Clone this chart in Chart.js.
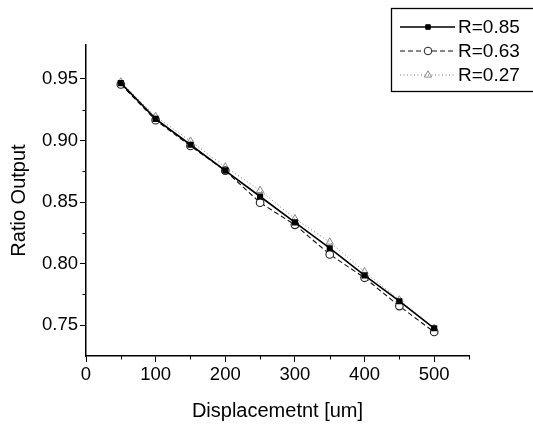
<!DOCTYPE html>
<html><head><meta charset="utf-8">
<script src="https://cdn.jsdelivr.net/npm/chart.js@4/dist/chart.umd.min.js"></script>
<style>html,body{margin:0;padding:0;background:#fff}#w{width:533px;height:427px;position:relative}</style>
</head><body><div id="w"><canvas id="c" width="533" height="427"></canvas></div>
<script>
const displacement = [50,100,150,200,250,300,350,400,450,500];
const r085 = [0.9465,0.9175,0.8965,0.8755,0.8545,0.8335,0.8125,0.7905,0.7695,0.7475];
const r063 = [0.9455,0.9165,0.8955,0.8755,0.8495,0.8315,0.8075,0.7885,0.7655,0.7445];
const r027 = [0.9475,0.9195,0.8995,0.8785,0.8595,0.8365,0.8175,0.7935,0.7705,0.7475];
const seriesLabels = ['R=0.85','R=0.63','R=0.27'];
const yMajor = [0.75,0.80,0.85,0.90,0.95];
const yMinor = [0.775,0.825,0.875,0.925];
const xMajor = [0,100,200,300,400,500];
const xMinor = [50,150,250,350,450,550];

const toPts = arr => displacement.map((x,i)=>({x, y: arr[i]}));
const FONT = "'Liberation Sans', Arial, sans-serif";

const styles = [
  {borderColor:'#000', borderWidth:1.6, borderDash:[], pointStyle:'rect', pointRadius:3.2, pointBackgroundColor:'#000', pointBorderColor:'#000'},
  {borderColor:'#111', borderWidth:1.1, borderDash:[5,3], pointStyle:'circle', pointRadius:3.8, pointBackgroundColor:'#fff', pointBorderColor:'#222'},
  {borderColor:'#777', borderWidth:1, borderDash:[1,2.5], pointStyle:'triangle', pointRadius:4.2, pointBackgroundColor:'rgba(255,255,255,0)', pointBorderColor:'#888'}
];
const datas = [r085, r063, r027];

const minorTicks = {
  id:'minorTicks',
  afterDraw(chart){
    const ctx = chart.ctx, xs = chart.scales.x, ys = chart.scales.y;
    ctx.save(); ctx.strokeStyle='#000'; ctx.lineWidth=1;
    yMinor.forEach(v=>{const p=Math.round(ys.getPixelForValue(v))+0.5; ctx.beginPath(); ctx.moveTo(xs.left-3.5,p); ctx.lineTo(xs.left,p); ctx.stroke();});
    xMinor.forEach(v=>{const p=Math.round(xs.getPixelForValue(v))+0.5; ctx.beginPath(); ctx.moveTo(p,ys.bottom); ctx.lineTo(p,ys.bottom+3.5); ctx.stroke();});
    // legend
    const lx=391, ly=8, lw=150, lh=83;
    ctx.fillStyle='#fff'; ctx.fillRect(lx,ly,lw,lh);
    ctx.strokeStyle='#000'; ctx.lineWidth=1.3; ctx.strokeRect(lx+0.5,ly+0.5,lw,lh);
    ctx.font = '19px '+FONT; ctx.textBaseline='middle'; ctx.textAlign='left';
    chart.data.datasets.forEach((ds,i)=>{
      const yy = ly+19+i*24;
      ctx.save();
      ctx.strokeStyle=ds.borderColor; ctx.lineWidth=ds.borderWidth; ctx.setLineDash(ds.borderDash);
      ctx.beginPath(); ctx.moveTo(lx+9,yy); ctx.lineTo(lx+64,yy); ctx.stroke();
      ctx.restore();
      ctx.save();
      ctx.fillStyle=ds.pointBackgroundColor; ctx.strokeStyle=ds.pointBorderColor; ctx.lineWidth=1;
      Chart.helpers.drawPoint(ctx,{pointStyle:ds.pointStyle, radius:ds.pointRadius, borderWidth:1, rotation:0}, lx+37, yy);
      ctx.restore();
      ctx.fillStyle='#000';
      ctx.fillText(ds.label, lx+67, yy+1);
    });
    ctx.restore();
  }
};

new Chart(document.getElementById('c'), {
  type:'scatter',
  data:{datasets: datas.map((d,i)=>Object.assign({label:seriesLabels[i], data:toPts(d), showLine:true, fill:false, tension:0}, styles[i]))},
  options:{
    responsive:false, animation:false, events:[],
    layout:{padding:{top:45,right:64,left:0,bottom:0}},
    plugins:{legend:{display:false}, tooltip:{enabled:false}},
    scales:{
      x:{type:'linear', min:0, max:550,
        afterBuildTicks(s){s.ticks = xMajor.map(v=>({value:v}));},
        afterFit(s){s.height=71;},
        ticks:{color:'#000', font:{family:FONT,size:18.5}, padding:2, maxRotation:0, callback:v=>String(v)},
        grid:{display:true, drawOnChartArea:false, tickLength:6, color:'#000', tickColor:'#000'},
        border:{display:true, color:'#000', width:1.5},
        title:{display:true, text:'Displacemetnt [um]', color:'#000', font:{family:FONT,size:20}, padding:{top:4,bottom:4}}
      },
      y:{type:'linear', min:0.725, max:0.9775,
        afterBuildTicks(s){s.ticks = yMajor.map(v=>({value:v}));},
        afterFit(s){s.width=86;},
        ticks:{color:'#000', font:{family:FONT,size:18.5}, padding:2, callback:v=>v.toFixed(2)},
        grid:{display:true, drawOnChartArea:false, tickLength:6, color:'#000', tickColor:'#000'},
        border:{display:true, color:'#000', width:1.5},
        title:{display:true, text:'Ratio Output', color:'#000', font:{family:FONT,size:20}, padding:{top:7,bottom:2}}
      }
    }
  },
  plugins:[minorTicks]
});
</script></body></html>
